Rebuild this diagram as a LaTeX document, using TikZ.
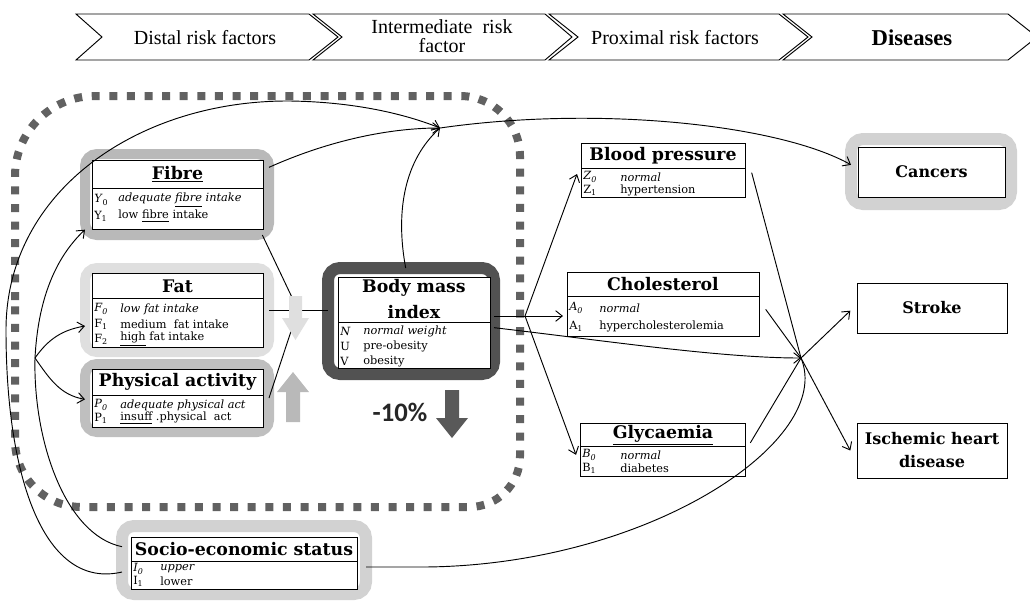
\documentclass[tikz,border=0pt]{standalone}
\usepackage{fontspec}
\setmainfont{DejaVu Serif}
\newfontfamily\hdrfont{Liberation Serif}
\newfontfamily\pctfont{Carlito}
\usetikzlibrary{arrows.meta}
\newcommand\regbox[6]{\node[#6, minimum width={(#4-#2)*0.75pt}, minimum height={(#5-#3)*0.75pt}] (#1) at ({(#2+#4)/2},{(#3+#5)/2}) {};}
\newcommand\vrow[6]{\node[rowt] (#1a) at (#2,#4) {#5}; \node[rowt] (#1b) at (#3,#4) {#6};}
\tikzset{
 frm/.style={draw, rounded corners=9pt, line width=7.5pt, outer sep=0pt, inner sep=0pt},
 ibox/.style={draw, fill=white, line width=0.6pt, outer sep=0pt, inner sep=0pt},
 ttl/.style={font=\fontsize{13}{14}\selectfont\bfseries, inner sep=0pt, align=center},
 rowt/.style={font=\fontsize{8.5}{10}\selectfont, inner sep=0pt, anchor=west},
 dis/.style={font=\fontsize{12}{17}\selectfont\bfseries, align=center, inner sep=0pt},
 hdr/.style={font=\hdrfont\fontsize{15}{14.5}\selectfont, align=center, inner sep=0pt},
 arr/.style={line width=0.7pt, -{Straight Barb[length=5pt,width=8pt]}},
 con/.style={line width=0.7pt},
 sep/.style={line width=0.5pt},
 chev/.style={draw, line width=0.7pt},
 dotbox/.style={draw=black!62, line width=6pt, dash pattern=on 6pt off 7.2pt},
}
\begin{document}
\begin{tikzpicture}[x=0.75pt,y=-0.75pt]
\useasboundingbox (0,0) rectangle (1030,601);
% header chevrons
\draw[chev] (76,14) -- (309,14) -- (338,37) -- (309,60) -- (76,60) -- (102,37) -- cycle;
\draw[chev] (313,14) -- (545,14) -- (572,37) -- (545,60) -- (313,60) -- (342,37) -- cycle;
\draw[chev] (549,14) -- (779,14) -- (808,37) -- (779,60) -- (549,60) -- (578,37) -- cycle;
\draw[chev] (783,14) -- (1008,14) -- (1037,37) -- (1008,60) -- (783,60) -- (812,37) -- cycle;
\node[hdr] (h1) at (205,38) {Distal risk factors};
\node[hdr] (h2) at (442,36) {Intermediate\ \ risk\\factor};
\node[hdr] (h3) at (675,38) {Proximal risk factors};
\node[hdr, font=\hdrfont\fontsize{17}{18}\selectfont\bfseries] (h4) at (912,38) {Diseases};
% dotted outline
\draw[dotbox] (15,300) [rounded corners=60pt] |- (300,96) [rounded corners=45pt] -| (520,300) [rounded corners=38pt] |- (300,507) [rounded corners=50pt] -| (15,300);
% frames
\regbox{fibF}{85}{154}{269}{235}{frm, draw=gray!55}
\regbox{fatF}{85}{268}{269}{352}{frm, draw=gray!25}
\regbox{paF}{85}{364}{269}{432}{frm, draw=gray!50}
\regbox{bmiF}{328}{268}{494}{374}{frm, line width=9pt, draw=black!68}
\regbox{canF}{851}{139}{1011}{204}{frm, line width=9pt, draw=gray!35}
\regbox{socF}{122}{526}{366}{594}{frm, line width=9pt, draw=gray!35}
% inner boxes
\regbox{fib}{92}{160}{263}{229}{ibox}
\regbox{fat}{92}{273}{263}{347}{ibox}
\regbox{pa}{92}{369}{263}{427}{ibox}
\regbox{bmi}{338}{277}{490}{368}{ibox}
\regbox{bp}{581}{143}{745}{197}{ibox}
\regbox{chol}{567}{272}{759}{336}{ibox}
\regbox{gly}{580}{423}{745}{476}{ibox}
\regbox{can}{858}{147}{1005}{197}{ibox}
\regbox{str}{857}{283}{1007}{333}{ibox}
\regbox{ihd}{857}{423}{1007}{478}{ibox}
\regbox{soc}{131}{537}{357}{589}{ibox}
% Fibre
\node[ttl] (fibT) at (177.5,174) {\underline{Fibre}};
\draw[sep] (92,188) -- (263,188);
\vrow{fibr0}{94}{118}{200}{\textit{Y}\textsubscript{0}}{\textit{adequate \underline{fibre} intake}}
\vrow{fibr1}{94}{118}{216}{Y\textsubscript{1}}{low \underline{fibre} intake}
% Fat
\node[ttl] (fatT) at (177.5,286) {Fat};
\draw[sep] (92,298) -- (263,298);
\vrow{fatr0}{94}{120}{309}{\textit{F}\textsubscript{\textit{0}}}{\textit{low fat intake}}
\vrow{fatr1}{94}{120}{324}{F\textsubscript{1}}{medium\ \ fat intake}
\vrow{fatr2}{94}{120}{339}{F\textsubscript{2}}{\underline{high} fat intake}
% Physical activity
\node[ttl] (paT) at (177.5,382) {Physical activity};
\draw[sep] (92,395) -- (263,395);
\vrow{par0}{94}{120}{405}{\textit{P}\textsubscript{\textit{0}}}{\textit{adequate physical act}}
\vrow{par1}{94}{120}{418}{P\textsubscript{1}}{\underline{insuff} .physical\ \ act}
% BMI
\node[ttl, font=\fontsize{13}{20}\selectfont\bfseries] (bmiT) at (414,299) {Body mass\\index};
\draw[sep] (338,322) -- (490,322);
\vrow{bmir0}{340}{363}{331}{\textit{N}}{\textit{normal weight}}
\vrow{bmir1}{340}{363}{346}{U}{pre-obesity}
\vrow{bmir2}{340}{363}{361}{V}{obesity}
% Blood pressure
\node[ttl] (bpT) at (663,156) {Blood pressure};
\draw[sep] (581,168) -- (745,168);
\vrow{bpr0}{583}{620}{177}{\textit{Z}\textsubscript{\textit{0}}}{\textit{normal}}
\vrow{bpr1}{583}{620}{190}{Z\textsubscript{1}}{hypertension}
% Cholesterol
\node[ttl] (cholT) at (663,284) {Cholesterol};
\draw[sep] (567,296) -- (759,296);
\vrow{cholr0}{569}{599}{308}{\textit{A}\textsubscript{\textit{0}}}{\textit{normal}}
\vrow{cholr1}{569}{599}{326}{A\textsubscript{1}}{hypercholesterolemia}
% Glycaemia
\node[ttl] (glyT) at (663,435) {\underline{Glycaemia}};
\draw[sep] (580,446) -- (745,446);
\vrow{glyr0}{582}{620}{455}{\textit{B}\textsubscript{\textit{0}}}{\textit{normal}}
\vrow{glyr1}{582}{620}{468}{B\textsubscript{1}}{diabetes}
% Socio-economic status
\node[ttl] (socT) at (244,549) {Socio-economic status};
\draw[sep] (131,561) -- (357,561);
\vrow{socr0}{133}{160}{569}{\textit{I}\textsubscript{\textit{0}}}{\textit{upper}}
\vrow{socr1}{133}{160}{581}{I\textsubscript{1}}{lower}
% diseases
\node[dis] (canT) at (931.5,172) {Cancers};
\node[dis] (strT) at (932,308) {Stroke};
\node[dis] (ihdT) at (932,450) {Ischemic heart\\disease};
% junction coordinates
\coordinate (J1) at (440,128);
\coordinate (C) at (801,358);
\coordinate (B) at (525,316);
\coordinate (L) at (35,358);
\coordinate (M) at (298,310);
\coordinate (SE) at (425,567);
% connectors
\draw[arr] ([yshift=-10pt]fibF.north east) .. controls (330,140) and (390,128) .. (J1);
\draw[arr] ([xshift=-4pt]bmiF.north) .. controls (395,210) and (405,160) .. (J1);
\draw[arr] ([yshift=-9pt]socF.west) .. controls (45,590) and (6,480) .. (6,330)
   .. controls (6,190) and (140,100) .. (290,101) .. controls (360,102) and (410,116) .. (J1);
\draw[arr] ([yshift=10pt]socF.west) .. controls (65,535) and (33,440) .. (L)
   .. controls (38,300) and (55,258) .. ([yshift=4pt]fibF.south west);
\draw[arr] (L) to[out=55,in=190] ([yshift=-12pt]fatF.west);
\draw[arr] (L) to[out=-55,in=170] ([yshift=-1pt]paF.west);
\draw[con] ([xshift=-5pt]fibF.south east) -- (M);
\draw[con] (paF.east) -- (M);
\draw[con] (fatF.east) -- (fatF.east -| bmiF.west);
\draw[arr] (J1) .. controls (600,105) and (780,125) .. ([yshift=5pt]canF.west);
\draw[con] (bmiF.east |- B) -- (B);
\draw[arr] (B) -- ([xshift=-3pt,yshift=-3pt]bp.west);
\draw[arr] (B) -- ([xshift=-3pt]chol.west |- B);
\draw[arr] (B) -- ([xshift=-3pt,yshift=-4pt]gly.west);
\draw[arr] ([yshift=-5pt]bmiF.east) .. controls (600,340) and (720,358) .. (C);
\draw[con] ([xshift=5pt,yshift=-2pt]bp.east) -- (C);
\draw[con] ([xshift=5pt,yshift=-4pt]chol.east) -- (C);
\draw[con] ([xshift=4pt,yshift=5pt]gly.east) -- (C);
\draw[arr] (C) -- ([xshift=-5pt,yshift=-2pt]str.west);
\draw[arr] (C) -- ([xshift=-5pt]ihd.west);
\draw[con] (socF.east |- SE) -- (SE) .. controls (650,565) and (835,440) .. (C);
% block arrows
\fill[gray!25] (289,296) -- (302,296) -- (302,318) -- (309,318) -- (295.5,340) -- (282,318) -- (289,318) -- cycle;
\fill[gray!55] (293,372) -- (309,392) -- (300,392) -- (300,422) -- (286,422) -- (286,392) -- (277,392) -- cycle;
\node[font=\pctfont\fontsize{20}{22}\selectfont\bfseries, text=black!85, inner sep=0pt] (pct) at (400,412) {-10\%};
\fill[black!65] (445,390) -- (459,390) -- (459,418) -- (468,418) -- (452,438) -- (436,418) -- (445,418) -- cycle;
\end{tikzpicture}
\end{document}
